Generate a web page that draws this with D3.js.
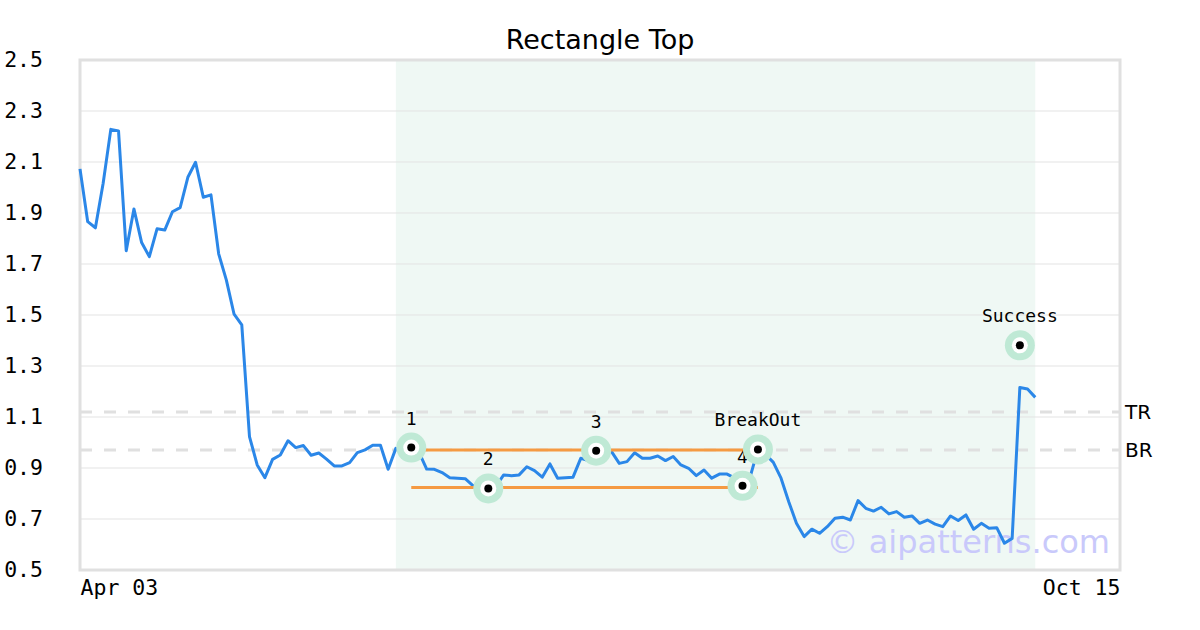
<!DOCTYPE html>
<html lang="en">
<head>
    <meta charset="UTF-8">
    <title>Rectangle Top</title>
    <script src="https://cdn.jsdelivr.net/npm/d3@7"></script>
    <style>
        body {
            margin: 0;
            background: white;
        }
        .mono {
            font-family: "DejaVu Sans Mono", monospace;
        }
    </style>
</head>
<body>
<script>
    const width  = 1200;
    const height = 630;
    const margin = {top: 60, right: 80, bottom: 60, left: 80};

    // closing prices, one per trading day
    const prices = [
        2.073, 1.866, 1.842, 2.016, 2.228, 2.222, 1.752, 1.916, 1.784, 1.729,
        1.838, 1.833, 1.905, 1.921, 2.040, 2.099, 1.962, 1.971, 1.740, 1.637,
        1.503, 1.461, 1.023, 0.912, 0.862, 0.934, 0.951, 1.007, 0.980, 0.988,
        0.950, 0.959, 0.935, 0.908, 0.908, 0.921, 0.960, 0.971, 0.989, 0.989,
        0.895, 0.977, 0.968, 0.980, 0.962, 0.896, 0.895, 0.882, 0.862, 0.860,
        0.858, 0.831, 0.829, 0.820, 0.829, 0.873, 0.870, 0.873, 0.905, 0.890,
        0.864, 0.916, 0.860, 0.862, 0.864, 0.938, 0.929, 0.968, 0.964, 0.964,
        0.918, 0.925, 0.960, 0.938, 0.938, 0.947, 0.929, 0.945, 0.912, 0.899,
        0.870, 0.892, 0.860, 0.876, 0.876, 0.860, 0.830, 0.866, 0.973, 0.953,
        0.922, 0.860, 0.768, 0.683, 0.631, 0.660, 0.644, 0.670, 0.703, 0.707,
        0.696, 0.772, 0.742, 0.731, 0.746, 0.720, 0.729, 0.707, 0.712, 0.683,
        0.696, 0.680, 0.670, 0.712, 0.694, 0.716, 0.660, 0.683, 0.664, 0.666,
        0.605, 0.624, 1.216, 1.210, 1.177
    ];

    // x axis: slot index -> label
    const xTickIndex  = [0, 135];
    const xTickLabels = ["Apr 03", "Oct 15"];
    const yTicks = [0.5, 0.7, 0.9, 1.1, 1.3, 1.5, 1.7, 1.9, 2.1, 2.3, 2.5];

    // pattern points
    const pointLabels = ["1", "2", "3", "4", "BreakOut", "Success"];
    const pointIndex  = [43, 53, 67, 86, 88, 122];
    const pointValues = [0.980, 0.820, 0.968, 0.830, 0.973, 1.381];

    // pattern window (shaded) and rectangle bounds
    const patternRange = [41, 124];
    const rectRange    = [43, 88];
    const rectTop      = 0.971;
    const rectBottom   = 0.824;

    // reference levels
    const levelNames  = ["TR", "BR"];
    const levelValues = [1.12, 0.971];

    const x = d3.scaleLinear()
                .domain([0, 135])
                .range([margin.left, width - margin.right]);

    const y = d3.scaleLinear()
                .domain([0.5, 2.5])
                .range([height - margin.bottom, margin.top]);

    const svg = d3.select("body").append("svg")
                  .attr("width", width)
                  .attr("height", height);

    // title
    svg.append("text")
       .attr("x", (margin.left + width - margin.right) / 2)
       .attr("y", 49)
       .attr("text-anchor", "middle")
       .style("font-family", "'DejaVu Sans', sans-serif")
       .style("font-size", "27px")
       .text("Rectangle Top");

    // shaded pattern window
    svg.append("rect")
       .attr("x", x(patternRange[0]))
       .attr("y", y(2.5))
       .attr("width", x(patternRange[1]) - x(patternRange[0]))
       .attr("height", y(0.5) - y(2.5))
       .attr("fill", "#eff8f4");

    // horizontal grid
    svg.append("g")
       .selectAll("line")
       .data(yTicks.slice(1, -1))
       .join("line")
         .attr("x1", x(0)).attr("x2", x(135))
         .attr("y1", d => y(d)).attr("y2", d => y(d))
         .attr("stroke", "#e3e3e3")
         .attr("stroke-width", 1);

    // y axis labels
    const yAxis = svg.append("g")
                     .attr("transform", `translate(${margin.left},0)`)
                     .call(d3.axisLeft(y).tickValues(yTicks).tickFormat(d3.format(".1f"))
                             .tickSize(0).tickPadding(37));
    yAxis.select(".domain").remove();
    yAxis.selectAll("text")
         .attr("class", "mono")
         .style("font-size", "21.5px")
         .attr("fill", "black");

    // x axis labels
    const xAxis = svg.append("g")
                     .attr("transform", `translate(0,${height - margin.bottom})`)
                     .call(d3.axisBottom(x).tickValues(xTickIndex)
                             .tickFormat((d, i) => xTickLabels[i])
                             .tickSize(0).tickPadding(10));
    xAxis.select(".domain").remove();
    xAxis.selectAll("text")
         .attr("class", "mono")
         .style("font-size", "21.5px")
         .attr("fill", "black")
         .attr("text-anchor", (d, i) => i === 0 ? "start" : "end");

    // TR / BR dashed levels
    svg.append("g")
       .selectAll("line")
       .data(levelValues)
       .join("line")
         .attr("x1", x(0)).attr("x2", x(135))
         .attr("y1", d => y(d)).attr("y2", d => y(d))
         .attr("stroke", "#e0e0e0")
         .attr("stroke-width", 3)
         .attr("stroke-dasharray", "12,12");

    svg.append("g")
       .selectAll("text")
       .data(levelValues)
       .join("text")
         .attr("x", x(135) + 5)
         .attr("y", d => y(d) + 7)
         .style("font-family", "'DejaVu Sans', sans-serif")
         .style("font-size", "20px")
         .text((d, i) => levelNames[i]);

    // frame
    svg.append("rect")
       .attr("x", x(0))
       .attr("y", y(2.5))
       .attr("width", x(135) - x(0))
       .attr("height", y(0.5) - y(2.5))
       .attr("fill", "none")
       .attr("stroke", "#e0e0e0")
       .attr("stroke-width", 3);

    // watermark
    svg.append("text")
       .attr("x", 1110)
       .attr("y", 553)
       .attr("text-anchor", "end")
       .style("font-family", "'DejaVu Sans', sans-serif")
       .style("font-size", "32px")
       .attr("fill", "#c9c9fb")
       .text("\u00a9 aipatterns.com");

    // price line
    const line = d3.line()
                   .x((d, i) => x(i))
                   .y(d => y(d));

    svg.append("path")
       .attr("d", line(prices))
       .attr("fill", "none")
       .attr("stroke", "#2b87e8")
       .attr("stroke-width", 3)
       .attr("stroke-linejoin", "round");

    // rectangle bounds
    svg.append("g")
       .selectAll("line")
       .data([rectTop, rectBottom])
       .join("line")
         .attr("x1", x(rectRange[0])).attr("x2", x(rectRange[1]))
         .attr("y1", d => y(d)).attr("y2", d => y(d))
         .attr("stroke", "#f59a42")
         .attr("stroke-width", 3);

    // pattern point markers
    const marks = svg.append("g")
                     .selectAll("g")
                     .data(pointIndex)
                     .join("g")
                       .attr("transform", (d, i) => `translate(${x(d)},${y(pointValues[i])})`);

    marks.append("circle").attr("r", 15).attr("fill", "#bfe9d5");
    marks.append("circle").attr("r", 8).attr("fill", "white");
    marks.append("circle").attr("r", 4).attr("fill", "black");
    marks.append("text")
         .attr("class", "mono")
         .attr("y", -23)
         .attr("text-anchor", "middle")
         .style("font-size", "18px")
         .text((d, i) => pointLabels[i]);
</script>
</body>
</html>
